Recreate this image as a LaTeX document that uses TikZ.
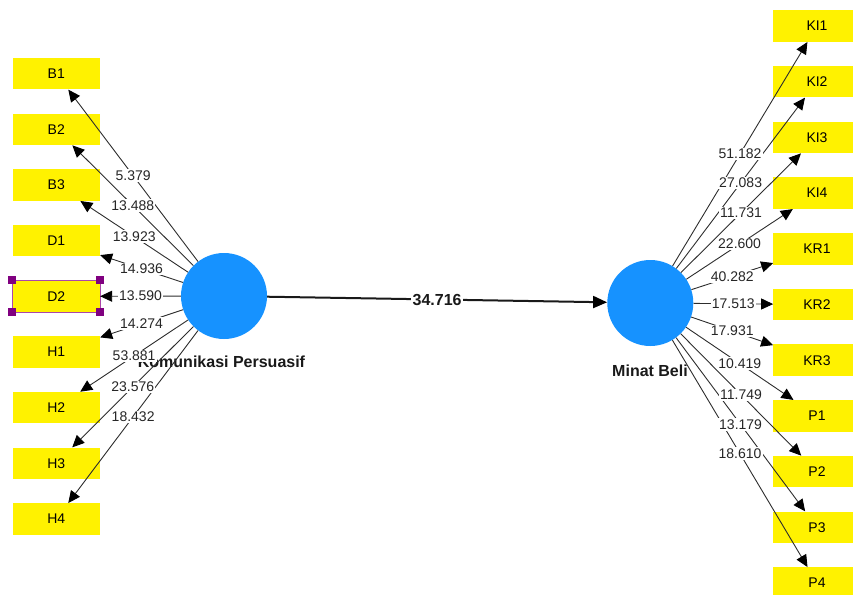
\documentclass[tikz,border=0pt]{standalone}
\usepackage{fontspec}
\setmainfont{Liberation Sans}
\usetikzlibrary{arrows.meta}
\definecolor{lvblue}{RGB}{22,146,255}
\definecolor{selpurple}{RGB}{128,0,128}
\definecolor{selborder}{RGB}{170,70,170}
\definecolor{lineg}{RGB}{45,45,45}
\begin{document}
\begin{tikzpicture}[x=1pt,y=-1pt,
  ind/.style={rectangle, fill=yellow, minimum width=87.3pt, minimum height=31.5pt, inner sep=0pt, font=\fontsize{14}{16}\selectfont},
  lv/.style={circle, fill=lvblue, minimum size=86pt, inner sep=0pt},
  ld/.style={draw=lineg, line width=0.9pt, -{Triangle[length=12pt,width=11pt,color=black]}},
  lab/.style={fill=white, inner sep=1.2pt, font=\fontsize{14}{16}\selectfont, text=black!85},
  lvtext/.style={font=\bfseries\fontsize{16}{18}\selectfont, text=black!90},
  handle/.style={fill=selpurple, minimum size=8pt, inner sep=0pt}
]
\useasboundingbox (0,0) rectangle (853,594);

\node[lv] (KP) at (224,296) {};
\node[lv] (MB) at (650.3,303) {};
\node[lvtext] (KPt) at (221.5,362) {Komunikasi Persuasif};
\node[lvtext] (MBt) at (650,371) {Minat Beli};

% left indicators
\foreach \n [count=\i from 0] in {B1,B2,B3,D1,D2,H1,H2,H3,H4} {
  \node[ind] (\n) at (56.3,73.7+55.66*\i) {\n};
}
% right indicators
\foreach \n [count=\i from 0] in {KI1,KI2,KI3,KI4,KR1,KR2,KR3,P1,P2,P3,P4} {
  \node[ind] (\n) at (817,26+55.7*\i) {\n};
}

% D2 selection marks
\draw[selborder, line width=0.8pt] (D2.south west) rectangle (D2.north east);
\node[handle] (hnw) at (D2.north west) {};
\node[handle] (hne) at (D2.north east) {};
\node[handle] (hsw) at (D2.south west) {};
\node[handle] (hse) at (D2.south east) {};

% connector lines
\foreach \n in {B1,B2,B3,D1,D2,H1,H2,H3,H4} {
  \draw[ld] (KP) -- (\n);
}
\foreach \n in {KI1,KI2,KI3,KI4,KR1,KR2,KR3,P1,P2,P3,P4} {
  \draw[ld] (MB) -- (\n);
}
% labels on top
\foreach \n/\v in {B1/5.379,B2/13.488,B3/13.923,D1/14.936,D2/13.590,H1/14.274,H2/53.881,H3/23.576,H4/18.432} {
  \path (KP) -- node[lab] {\v} (\n);
}
\foreach \n/\v in {KI1/51.182,KI2/27.083,KI3/11.731,KI4/22.600,KR1/40.282,KR2/17.513,KR3/17.931,P1/10.419,P2/11.749,P3/13.179,P4/18.610} {
  \path (MB) -- node[lab] {\v} (\n);
}

% structural path
\draw[line width=2pt, draw=black!90, -{Triangle[length=14pt,width=12pt,color=black]}] (KP) -- node[fill=white, inner sep=1.5pt, lvtext] (pathlab) {34.716} (MB);
\end{tikzpicture}
\end{document}
